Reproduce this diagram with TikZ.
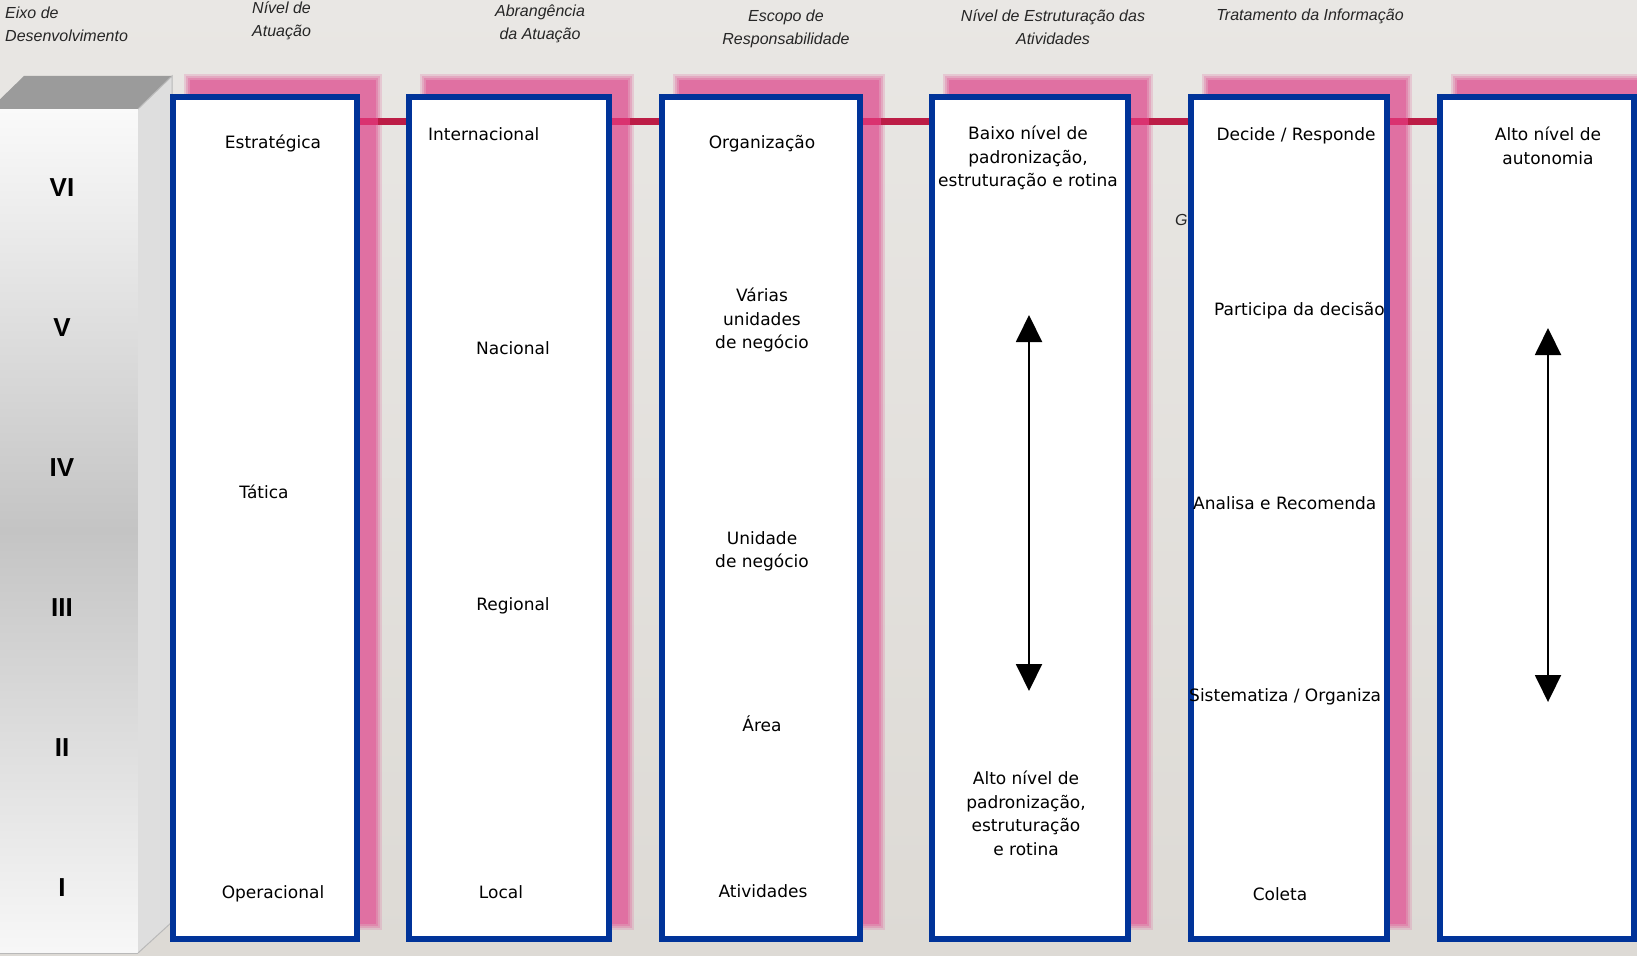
\documentclass[tikz,border=0pt]{standalone}
\usepackage{fontspec}
\setmainfont{DejaVu Sans}
\newfontfamily\hdrfont{Liberation Sans}
\newfontfamily\numfont{Liberation Sans}
\usetikzlibrary{calc,arrows.meta}
\definecolor{bgtop}{RGB}{233,231,228}
\definecolor{bgbot}{RGB}{221,218,213}
\definecolor{boxblue}{RGB}{0,51,153}
\definecolor{shpink}{RGB}{224,112,162}
\definecolor{lnpink}{RGB}{218,50,112}
\definecolor{lncrim}{RGB}{188,28,70}
\definecolor{cubetop}{RGB}{155,155,155}
\definecolor{cubeside}{RGB}{222,222,222}
\definecolor{cubemid}{RGB}{196,196,196}
\definecolor{cubeedge}{RGB}{185,185,185}
\tikzset{
  colbox/.style={draw=boxblue, line width=6, fill=white, inner sep=0, outer sep=3, minimum height=842},
  hdr/.style={font=\hdrfont\itshape\fontsize{16}{23}\selectfont, text=black!85, inner sep=0},
  txt/.style={font=\fontsize{17}{23.5}\selectfont, align=center, inner sep=0},
  roman/.style={font=\numfont\bfseries\fontsize{26}{26}\selectfont, inner sep=0},
  lnc/.style={draw=lncrim, line width=7},
  lnp/.style={draw=lnpink, line width=7},
  dbl/.style={line width=2, {Triangle[length=27,width=26]}-{Triangle[length=27,width=26]}}
}
\begin{document}
\begin{tikzpicture}[x=1pt,y=1pt]
\useasboundingbox (0,0) rectangle (1637,-955);
\shade[top color=bgtop,bottom color=bgbot] (0,0) rectangle (1637,-955);

% cube
\shade[top color=white!98!black, bottom color=cubemid] (-10,-109) rectangle (138,-530);
\shade[top color=cubemid, bottom color=white!97!black] (-10,-530) rectangle (138,-953);
\fill[cubetop] (-10,-109) -- (24,-76) -- (172,-76) -- (138,-109) -- cycle;
\fill[cubeside] (138,-109) -- (172,-76) -- (172,-922) -- (138,-953) -- cycle;
\draw[cubeedge, line width=1] (138,-109) -- (172,-76) -- (172,-922) -- (138,-953);
\draw[cubeedge, line width=1] (-10,-953) -- (138,-953);

\node[roman] (r6) at (62,-188) {VI};
\node[roman] (r5) at (62,-328) {V};
\node[roman] (r4) at (62,-468) {IV};
\node[roman] (r3) at (62,-608) {III};
\node[roman] (r2) at (62,-748) {II};
\node[roman] (r1) at (62,-888) {I};

% headers
\node[hdr, align=left, anchor=west] (h1) at (5,-24.5) {Eixo de\\Desenvolvimento};
\node[hdr, align=left, anchor=west] (h2) at (252,-21) {Nível de\\Atuação};
\node[hdr, align=center] (h3) at (540,-24) {Abrangência\\da Atuação};
\node[hdr, align=center] (h4) at (786,-28.5) {Escopo de\\Responsabilidade};
\node[hdr, align=center] (h5) at (1053,-27) {Nível de Estruturação das\\Atividades};
\node[hdr] (h6) at (1310,-16) {Tratamento da Informação};
\node[hdr, anchor=west] (hg) at (1175,-220) {G};

% box frames (invisible) for the shadows
\path (265,-518) node[colbox, draw=none, fill=none, minimum width=184] (b1) {};
\path (509,-518) node[colbox, draw=none, fill=none, minimum width=200] (b2) {};
\path (761,-518) node[colbox, draw=none, fill=none, minimum width=198] (b3) {};
\path (1030,-518) node[colbox, draw=none, fill=none, minimum width=196] (b4) {};
\path (1289,-518) node[colbox, draw=none, fill=none, minimum width=196] (b5) {};
\path (1537,-518) node[colbox, draw=none, fill=none, minimum width=194] (b6) {};

% shadows
\foreach \b in {b1,b2,b3,b4,b5,b6}{
  \foreach \d/\o in {4/0.25,2/0.35,0/0.5,-2/1}{
    \fill[shpink, opacity=\o] ($(\b.south west)+({18-(\d)},{16-(\d)})$) rectangle ($(\b.north east)+({18+(\d)},{16+(\d)})$);
  }
}

% connectors
\foreach \a/\c in {b1/b2,b2/b3,b3/b4,b4/b5,b5/b6}{
  \draw[lnc] ($(\a.north east)+(-3,-27.5)$) -- ($(\c.north west)+(3,-27.5)$);
  \draw[lnp] ($(\a.north east)+(0,-27.5)$) -- ($(\a.north east)+(18,-27.5)$);
}

% boxes drawn
\node[colbox, minimum width=184] at (b1.center) {};
\node[colbox, minimum width=200] at (b2.center) {};
\node[colbox, minimum width=198] at (b3.center) {};
\node[colbox, minimum width=196] at (b4.center) {};
\node[colbox, minimum width=196] at (b5.center) {};
\node[colbox, minimum width=194] at (b6.center) {};

% box 1
\node[txt] (t11) at (273,-143) {Estratégica};
\node[txt] (t12) at (264,-492) {Tática};
\node[txt] (t13) at (273,-894) {Operacional};
% box 2
\node[txt, anchor=west] (t21) at (428,-134) {Internacional};
\node[txt] (t22) at (513,-348) {Nacional};
\node[txt] (t23) at (513,-606) {Regional};
\node[txt] (t24) at (501,-892) {Local};
% box 3
\node[txt] (t31) at (762,-144) {Organização};
\node[txt] (t32) at (762,-320) {Várias\\unidades\\de negócio};
\node[txt] (t33) at (762,-551.5) {Unidade\\de negócio};
\node[txt] (t34) at (762,-724) {Área};
\node[txt] (t35) at (763,-891) {Atividades};
% box 4
\node[txt] (t41) at (1028,-158) {Baixo nível de\\padronização,\\estruturação e rotina};
\node[txt] (t42) at (1026,-813.5) {Alto nível de\\padronização,\\estruturação\\e rotina};
\coordinate (a4t) at (1029,-315);
\coordinate (a4b) at (1029,-691);
\draw[dbl] (a4t) -- (a4b);
% box 5
\node[txt] (t51) at (1296,-136) {Decide / Responde};
\node[txt, anchor=west] (t52) at (1214,-311) {Participa da decisão};
\node[txt, anchor=west] (t53) at (1193,-503) {Analisa e Recomenda};
\node[txt, anchor=west] (t54) at (1189,-697) {Sistematiza / Organiza};
\node[txt] (t55) at (1280,-894) {Coleta};
% box 6
\node[txt] (t61) at (1548,-146) {Alto nível de\\autonomia};
\coordinate (a6t) at (1548,-328);
\coordinate (a6b) at (1548,-702);
\draw[dbl] (a6t) -- (a6b);
\end{tikzpicture}
\end{document}
